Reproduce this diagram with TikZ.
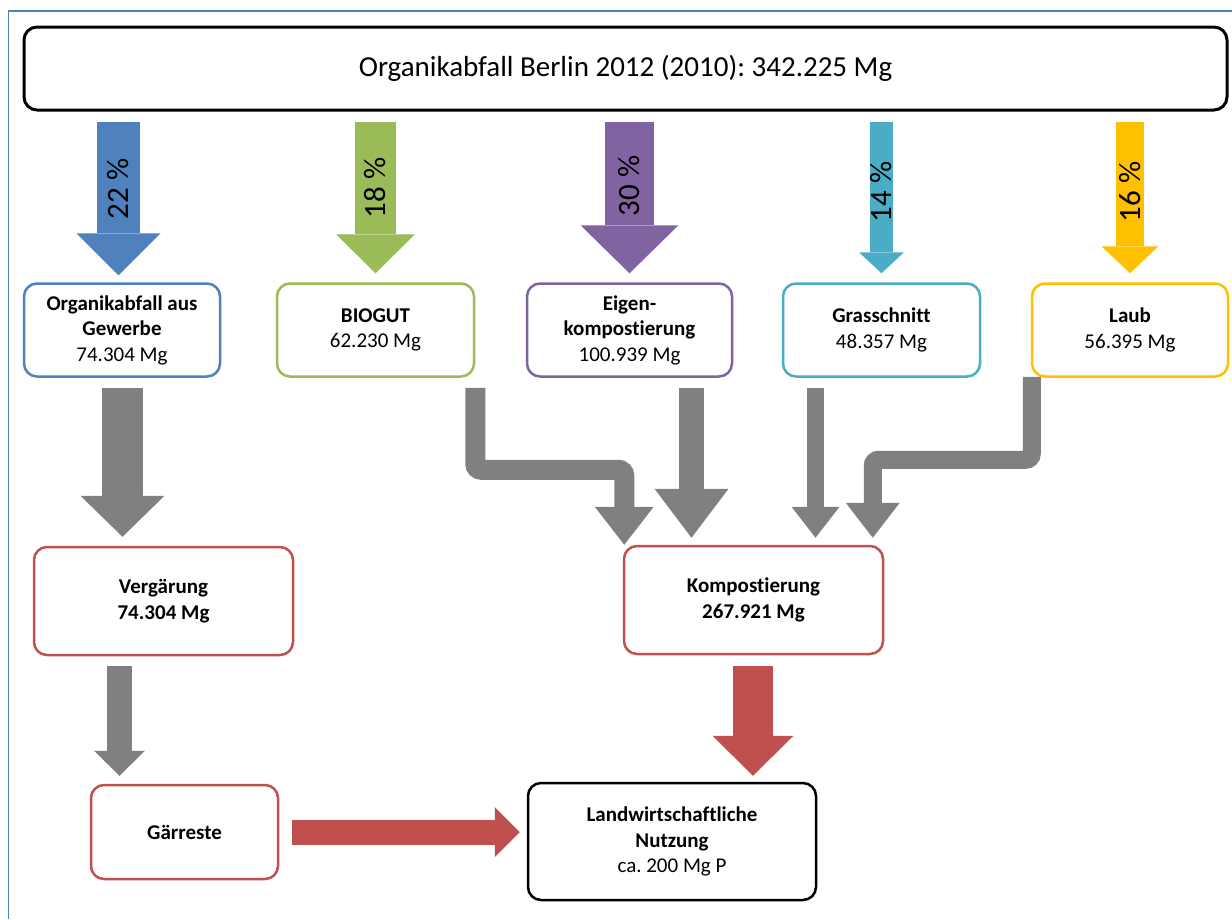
\documentclass[tikz,border=0pt]{standalone}
\usepackage{fontspec}
\setmainfont{Carlito}[Ligatures={NoCommon}]
\frenchspacing
\usetikzlibrary{arrows.meta,calc}
\definecolor{cblue}{HTML}{4F81BD}
\definecolor{cgreen}{HTML}{9BBB59}
\definecolor{cpurple}{HTML}{8064A2}
\definecolor{ccyan}{HTML}{4BACC6}
\definecolor{cyellow}{HTML}{FFC000}
\definecolor{cgray}{HTML}{808080}
\definecolor{cred}{HTML}{C0504D}
\begin{document}
\frenchspacing
\begin{tikzpicture}[x=1pt,y=-1pt,
  box/.style={draw=#1, line width=2.5pt, rounded corners=13pt, fill=white, align=center, inner sep=0pt, text=black, font=\fontsize{21}{25.5}\selectfont},
  blk/.style n args={4}{draw=#1, line width=#2, line join=miter, -{Triangle[width=#3,length=#4,line width=0pt]}},
  pct/.style={rotate=90, inner sep=0pt, font=\fontsize{31}{31}\selectfont, text=black}
]
\useasboundingbox (0,0) rectangle (1232,919);
\fill[white] (0,0) rectangle (1232,919);
% page frame
\draw[cblue, line width=1.5pt] (8.5,919) -- (8.5,11) -- (1232,11);

% nodes
\node[box=black, line width=3pt, minimum width=1203pt, minimum height=83pt, font=\fontsize{29}{33}\selectfont] (title) at (625.5,68.5) {Organikabfall Berlin 2012 (2010): 342.225 Mg};

\node[box=cblue, minimum width=196pt, minimum height=93pt] (ob) at (122,330) {\textbf{Organikabfall aus}\\\textbf{Gewerbe}\\74.304 Mg};
\node[box=cgreen, minimum width=197pt, minimum height=93pt] (bio) at (375.5,330) {\textbf{BIOGUT}\\62.230 Mg};
\node[box=cpurple, minimum width=205pt, minimum height=93pt] (eig) at (629.5,330) {\textbf{Eigen-}\\\textbf{kompostierung}\\100.939 Mg};
\node[box=ccyan, minimum width=197pt, minimum height=93pt] (gras) at (881.5,330) {\textbf{Grasschnitt}\\48.357 Mg};
\node[box=cyellow, minimum width=196pt, minimum height=93pt] (laub) at (1130,330) {\textbf{Laub}\\56.395 Mg};

\node[box=cred, minimum width=259pt, minimum height=108pt] (verg) at (163.5,601) {\textbf{Vergärung}\\\textbf{74.304 Mg}};
\node[box=cred, minimum width=259pt, minimum height=108pt] (komp) at (753.5,600) {\textbf{Kompostierung}\\\textbf{267.921 Mg}};
\node[box=cred, minimum width=187pt, minimum height=94pt] (gaer) at (184.5,832) {\textbf{Gärreste}};
\node[box=black, minimum width=288pt, minimum height=117pt] (land) at (672,841.5) {\textbf{Landwirtschaftliche}\\\textbf{Nutzung}\\ca. 200 Mg P};

% coloured arrows from the title
\draw[blk={cblue}{43pt}{84pt}{42pt}] ($(title.south -| ob.north)+(-3.5,10)$) -- ($(ob.north)+(-3.5,-7)$);
\draw[blk={cgreen}{41pt}{79pt}{39pt}] ($(title.south -| bio.north)+(0,10)$) -- ($(bio.north)+(0,-9)$);
\draw[blk={cpurple}{49pt}{98pt}{48pt}] ($(title.south -| eig.north)+(0,10)$) -- ($(eig.north)+(0,-9)$);
\draw[blk={ccyan}{23pt}{45pt}{21pt}] ($(title.south -| gras.north)+(0,10)$) -- ($(gras.north)+(0,-9)$);
\draw[blk={cyellow}{28pt}{57pt}{27pt}] ($(title.south -| laub.north)+(0,10)$) -- ($(laub.north)+(0,-9)$);

\node[pct] (p1) at (118.5,189) {22 \%};
\node[pct] (p2) at (375.5,188) {18 \%};
\node[pct] (p3) at (629.5,186) {30 \%};
\node[pct] (p4) at (881.5,192) {14 \%};
\node[pct] (p5) at (1130,192) {16 \%};

% gray arrows
\draw[blk={cgray}{41pt}{84pt}{41pt}] ($(ob.south)+(0.5,10)$) -- ($(verg.north -| ob.south)+(0.5,-9)$);
\draw[blk={cgray}{20pt}{59pt}{38pt}, rounded corners=6pt] ($(bio.south east)+(0,10)$) -- ++(0,82) -| ($(komp.north west)+(1.5,0)$);
\draw[blk={cgray}{25pt}{74pt}{49pt}] ($(eig.south)+(62,10)$) -- ($(komp.north -| eig.south)+(62,-7)$);
\draw[blk={cgray}{17pt}{48pt}{31pt}] ($(gras.south)+(-66,10)$) -- ($(komp.north -| gras.south)+(-66,-7)$);
\draw[blk={cgray}{18pt}{54pt}{35pt}, rounded corners=6pt] ($(laub.south west)+(1,-1)$) -- ++(0,83) -| ($(komp.north east)+(-11.5,-7)$);
\draw[blk={cgray}{25pt}{51pt}{25pt}] ($(verg.south)+(-44,10)$) -- ($(gaer.north -| verg.south)+(-44,-8)$);

% red arrows
\draw[blk={cred}{40pt}{81pt}{40pt}] ($(komp.south)+(-0.5,11)$) -- ($(land.north -| komp.south)+(-0.5,-6)$);
\draw[blk={cred}{25pt}{50pt}{25pt}] ($(gaer.east)+(13,0)$) -- ($(land.west |- gaer.east)+(-7,0)$);
\end{tikzpicture}
\end{document}
